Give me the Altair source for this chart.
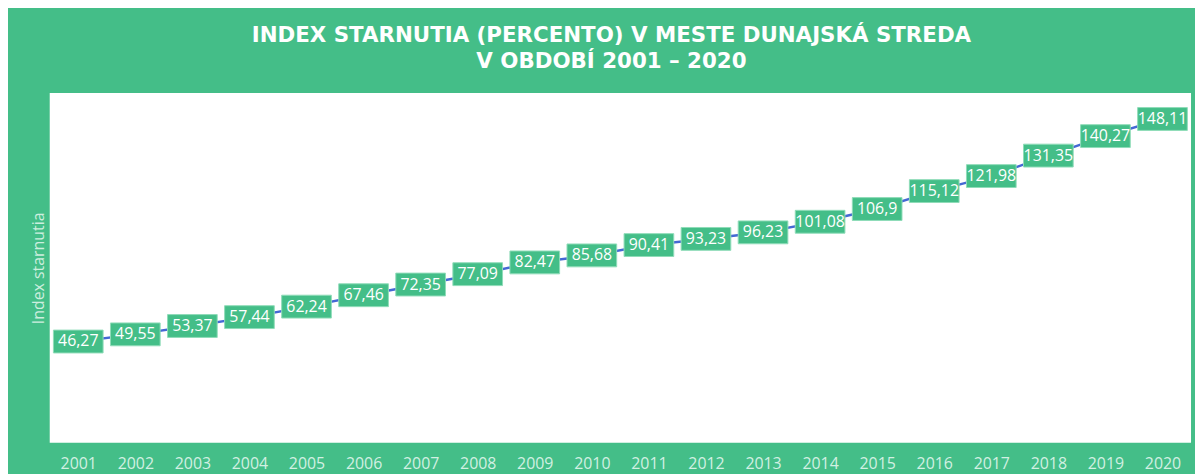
import altair as alt
import pandas as pd

years = [str(y) for y in range(2001, 2021)]
values = [46.27, 49.55, 53.37, 57.44, 62.24, 67.46, 72.35, 77.09, 82.47, 85.68,
          90.41, 93.23, 96.23, 101.08, 106.9, 115.12, 121.98, 131.35, 140.27, 148.11]
labels = [str(v).replace(".", ",") for v in values]

GREEN = "#44BE88"
df = pd.DataFrame({"year": years, "value": values, "label": labels})

x = alt.X("year:O", title=None,
          axis=alt.Axis(labelAngle=0, labelFontSize=16, labelColor="#d2f0e2",
                        labelFont="Open Sans", labelPadding=13, ticks=False,
                        domain=False, grid=False))
y = alt.Y("value:Q", scale=alt.Scale(domain=[0, 160], nice=False, zero=True),
          title="Index starnutia",
          axis=alt.Axis(labels=False, ticks=False, domain=False, grid=False,
                        titleFontSize=16, titleFont="Open Sans", titleFontWeight="normal",
                        titleColor="#cdeedf", titlePadding=3))

base = alt.Chart(df)
line = base.mark_line(color="#4468d4", strokeWidth=2.5).encode(x=x, y=y)
boxes = base.mark_point(shape="M-1,-0.46H1V0.46H-1Z", size=2500, filled=True,
                        fill=GREEN, stroke="#8fdcb8", strokeWidth=1, opacity=1).encode(x=x, y=y)
texts = base.mark_text(color="white", fontSize=16, font="Open Sans").encode(
    x=x, y=y, text="label:N")

chart = alt.layer(line, boxes, texts).properties(
    width=1149, height=352,
    autosize=alt.AutoSizeParams(type="none"),
    padding={"left": 42, "top": 84, "right": 4, "bottom": 30},
    background=GREEN,
    title=alt.TitleParams(
        text=["INDEX STARNUTIA (PERCENTO) V MESTE DUNAJSKÁ STREDA", "V OBDOBÍ 2001 – 2020"],
        color="white", fontSize=21.5, font="DejaVu Sans", fontWeight="bold",
        anchor="middle", frame="group", dx=-9, offset=21, lineHeight=26),
).configure_view(fill="white", stroke=None)

chart.save("out.html", embed_options={"renderer": "svg", "actions": False})
